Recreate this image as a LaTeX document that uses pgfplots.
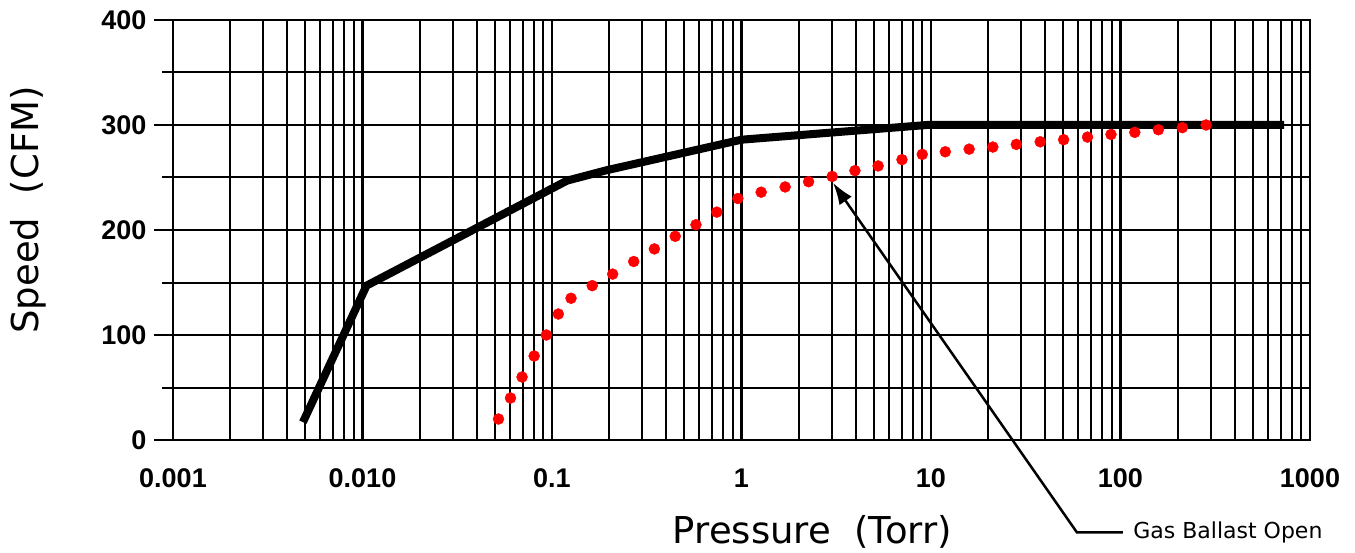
\documentclass[border=0pt]{standalone}
\usepackage{fontspec}
\setmainfont{Liberation Sans}
\newfontfamily\dejavu{DejaVu Sans}
\usepackage{pgfplots}
\pgfplotsset{compat=1.18}
\usetikzlibrary{arrows.meta}
\begin{document}
\begin{tikzpicture}
\begin{axis}[
  scale only axis, width=1137bp, height=420bp,
  xmode=log, log basis x=10,
  xmin=0.001, xmax=1000, ymin=0, ymax=400,
  xtick={0.001,0.01,0.1,1,10,100,1000},
  xticklabels={0.001,0.010,0.1,1,10,100,1000},
  minor xtick={0.002,0.003,0.004,0.005,0.006,0.007,0.008,0.009,
               0.02,0.03,0.04,0.05,0.06,0.07,0.08,0.09,
               0.2,0.3,0.4,0.5,0.6,0.7,0.8,0.9,
               2,3,4,5,6,7,8,9,
               20,30,40,50,60,70,80,90,
               200,300,400,500,600,700,800,900},
  ytick={0,100,200,300,400},
  minor ytick={50,150,250,350},
  grid=both,
  major grid style={black, line width=2.4bp},
  minor grid style={black, line width=2bp},
  axis line style={black, line width=2.2bp},
  xtick align=inside, ytick align=outside,
  xtick pos=bottom, ytick pos=left,
  major tick length=19bp, minor tick length=11bp,
  tick style={black, line width=2bp},
  /pgf/number format/assume math mode=true,
  ticklabel style={font=\fontsize{27bp}{30bp}\selectfont\bfseries},
  xticklabel style={yshift=-25bp},
  yticklabel style={xshift=-4bp},
  clip=false,
]
\addplot[black, line width=8bp] coordinates {
  (0.00485,17) (0.0105,147) (0.12,247) (0.195,257) (1.0,286) (9.5,300) (730,300)
};
\addplot[only marks, mark=*, mark size=5.5bp, color=red, mark options={draw=none, fill=red}] coordinates {
  (0.0522,20) (0.0604,40) (0.0695,60) (0.0805,80) (0.0933,100) (0.108,120)
  (0.126,135) (0.163,147) (0.209,158) (0.270,170) (0.347,182) (0.447,194)
  (0.575,205) (0.741,217) (0.957,230) (1.27,236) (1.70,241) (2.26,246)
  (3.01,251) (3.97,256.5) (5.26,261) (7.03,267) (8.99,272) (11.9,274.5)
  (15.9,277) (21.2,279) (28.2,281.5) (37.7,284) (50.1,286) (67.0,288.5)
  (89.1,291) (119,293) (158.5,295.5) (212,297.5) (283,300)
};
\draw[black, line width=2.5bp, -{Latex[length=22bp,width=15bp]}]
  (axis cs:103,-88) -- (axis cs:58.9,-88) -- (axis cs:3.04,245);
\node[anchor=west, font=\dejavu\fontsize{22bp}{26bp}\selectfont] at (axis cs:112,-88) {Gas Ballast Open};
\node[font=\dejavu\fontsize{37bp}{40bp}\selectfont] at (axis description cs:0.5625,-0.219) {Pressure\ \ (Torr)};
\node[rotate=90, font=\dejavu\fontsize{37bp}{40bp}\selectfont] at (axis description cs:-0.1275,0.5476) {Speed\ \ (CFM)};
\end{axis}
\pgfresetboundingbox
\path[use as bounding box] ([shift={(-173bp,-112bp)}]current axis.south west) rectangle ([shift={(45bp,20bp)}]current axis.north east);
\end{tikzpicture}
\end{document}
